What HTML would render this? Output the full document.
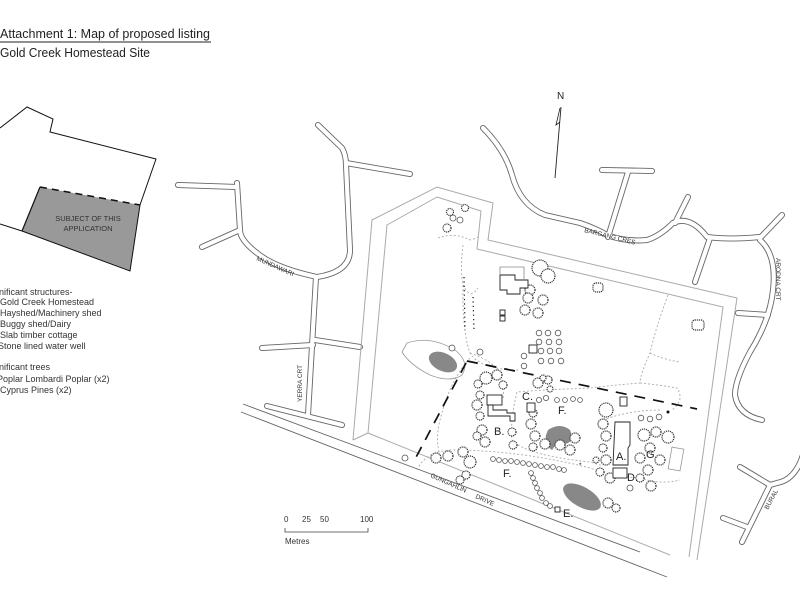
<!DOCTYPE html>
<html><head><meta charset="utf-8"><style>
html,body{margin:0;padding:0;background:#fff;width:800px;height:600px;overflow:hidden}
svg{display:block;font-family:"Liberation Sans",sans-serif}
.rd1{fill:none;stroke:#666;stroke-width:6;stroke-linecap:round;stroke-linejoin:round}
.rd2{fill:none;stroke:#fff;stroke-width:4.2;stroke-linecap:round;stroke-linejoin:round}
.site{fill:none;stroke:#aaa;stroke-width:1}
.path{fill:none;stroke:#aaa;stroke-width:0.9;stroke-dasharray:2 2}
.tr{fill:#fff;stroke:#555;stroke-width:0.8}
.big{fill:#fff;stroke:#333;stroke-width:1.2;stroke-dasharray:1.2 0.8}
.bld{fill:#fff;stroke:#222;stroke-width:0.9}
.lbl{font-size:11px;fill:#222}
.rl{font-size:6.5px;fill:#333}
.lg{font-size:9px;fill:#333}
</style></head><body>
<svg width="800" height="600" viewBox="0 0 800 600">
<text x="0" y="38" font-size="12.5" fill="#222" textLength="210" lengthAdjust="spacingAndGlyphs">Attachment 1:  Map of proposed listing</text>
<line x1="0" y1="42" x2="211" y2="42" stroke="#222" stroke-width="0.9"/>
<text x="0" y="57" font-size="12.5" fill="#222" textLength="150" lengthAdjust="spacingAndGlyphs">Gold Creek Homestead Site</text>

<polygon points="40,187 140,205 130,271 22,231" fill="#999"/>
<polyline points="0,128 27,107 53,119 50,132 156,159 140,205 130,271 22,231 0,224" fill="none" stroke="#111" stroke-width="1"/>
<line x1="22" y1="231" x2="40" y2="187" stroke="#111" stroke-width="1.2"/>
<line x1="40" y1="187" x2="140" y2="205" stroke="#111" stroke-width="1.5" stroke-dasharray="7 5"/>
<text x="88" y="221" font-size="7.5" fill="#333" text-anchor="middle">SUBJECT OF THIS</text>
<text x="88" y="231" font-size="7.5" fill="#333" text-anchor="middle">APPLICATION</text>

<text class="lg" x="-1" y="295">nificant structures-</text>
<text class="lg" x="0" y="305">Gold Creek Homestead</text>
<text class="lg" x="0" y="316">Hayshed/Machinery shed</text>
<text class="lg" x="0" y="327">Buggy shed/Dairy</text>
<text class="lg" x="0" y="338">Slab timber cottage</text>
<text class="lg" x="-2" y="349">Stone lined water well</text>
<text class="lg" x="-1" y="370">nificant trees</text>
<text class="lg" x="-3" y="382">Poplar Lombardi Poplar (x2)</text>
<text class="lg" x="0" y="393">Cyprus Pines (x2)</text>

<g>
<g class="rd1">
<path d="M318,125 L342,148 Q346,155 346,165 L350,250 Q350,272 317,277 Q275,268 257,253 Q240,240 240,230 L237,183"/>
<path d="M346,163 L410,174"/><path d="M237,187 L178,185"/><path d="M240,230 L202,247"/>
<path d="M316,277 L308,415"/><path d="M262,348 L313,345"/><path d="M315,340 L360,347"/><path d="M267,406 L342,425"/>
<path d="M483,128 Q505,150 512,175 Q520,205 545,215 L580,223 Q595,228 607,235 Q625,242 647,240 Q660,236 673,223 Q690,215 707,237 Q730,240 760,237"/>
<path d="M608,237 L628,172"/><path d="M602,170 L652,171"/><path d="M675,223 L688,197"/><path d="M710,238 L695,282"/>
<path d="M760,238 L782,215"/>
<path d="M760,240 Q777,255 773,290 Q770,320 750,352 Q735,380 735,395 Q738,415 762,420"/>
<path d="M738,313 L768,315"/>
<path d="M803,455 Q795,480 777,483 L770,485 L742,542"/><path d="M740,467 L770,485"/><path d="M723,518 L747,527"/>
</g>
<g class="rd2">
<path d="M318,125 L342,148 Q346,155 346,165 L350,250 Q350,272 317,277 Q275,268 257,253 Q240,240 240,230 L237,183"/>
<path d="M346,163 L410,174"/><path d="M237,187 L178,185"/><path d="M240,230 L202,247"/>
<path d="M316,277 L308,415"/><path d="M262,348 L313,345"/><path d="M315,340 L360,347"/><path d="M267,406 L342,425"/>
<path d="M483,128 Q505,150 512,175 Q520,205 545,215 L580,223 Q595,228 607,235 Q625,242 647,240 Q660,236 673,223 Q690,215 707,237 Q730,240 760,237"/>
<path d="M608,237 L628,172"/><path d="M602,170 L652,171"/><path d="M675,223 L688,197"/><path d="M710,238 L695,282"/>
<path d="M760,238 L782,215"/>
<path d="M760,240 Q777,255 773,290 Q770,320 750,352 Q735,380 735,395 Q738,415 762,420"/>
<path d="M738,313 L768,315"/>
<path d="M803,455 Q795,480 777,483 L770,485 L742,542"/><path d="M740,467 L770,485"/><path d="M723,518 L747,527"/>
</g>
</g>
<line x1="243" y1="404" x2="640" y2="552" stroke="#666" stroke-width="0.9"/>
<line x1="241" y1="412" x2="667" y2="577" stroke="#666" stroke-width="0.9"/>

<text class="rl" transform="translate(584,232) rotate(14)">BARGANG CRES</text>
<text class="rl" transform="translate(776,258) rotate(90)">ARODNA CRT</text>
<text class="rl" transform="translate(768,510) rotate(-62)">BURAL</text>
<text class="rl" transform="translate(256,260) rotate(24)">MUNDAWARI</text>
<text class="rl" transform="translate(302,402) rotate(-90)">YERRA CRT</text>
<text class="rl" transform="translate(430,477) rotate(24)">GUNGAHLIN</text>
<text class="rl" transform="translate(475,498) rotate(24)">DRIVE</text>

<line x1="561" y1="107" x2="555" y2="178" stroke="#222" stroke-width="0.9"/>
<polyline points="560,108 556,125 560,122" fill="none" stroke="#222" stroke-width="0.8"/>
<text x="557" y="99" font-size="10" fill="#222">N</text>

<polyline class="site" points="353,440 372,220 437,187 493,203 488,240 737,298 697,560"/>
<polyline class="site" points="368,433 387,225 437,197 481,211 477,249 723,307 689,557"/>
<line class="site" x1="353" y1="440" x2="368" y2="433"/>
<line class="site" x1="368" y1="433" x2="670" y2="555"/>

<path class="path" d="M438,238 Q455,232 470,240 Q478,238 477,237 M463,245 Q460,270 463,285 Q470,300 478,288 M463,285 Q462,330 470,353 Q480,370 520,370"/>
<path class="path" d="M668,295 Q655,330 650,353 Q640,375 640,383 Q615,385 590,388 Q540,390 517,392 Q510,420 512,440 Q525,455 590,462 L603,466"/>
<path class="path" d="M650,353 Q665,360 680,362 M640,383 Q660,385 677,388 Q685,400 672,410"/>
<path class="path" d="M417,470 Q425,452 450,450 Q520,450 590,468 Q610,476 640,478"/>
<path class="path" d="M470,353 Q490,360 498,370 Q505,385 503,400 M470,358 Q450,380 440,420 Q435,440 440,455"/>
<path class="path" d="M640,478 Q660,485 680,480 M603,420 Q630,410 660,410"/>

<g stroke="#111" stroke-width="1.2" stroke-dasharray="1.2 3.2">
<line x1="464" y1="277" x2="465" y2="330"/><line x1="473" y1="297" x2="474" y2="330"/>
</g>

<path d="M407,343 Q430,335 455,350 Q470,362 462,375 Q450,383 430,375 Q410,365 402,352 Z" fill="none" stroke="#999" stroke-width="0.8"/>
<ellipse cx="443" cy="362" rx="15" ry="9" transform="rotate(25 443 362)" fill="#888"/>
<path d="M548,430 Q560,422 570,430 Q575,442 565,444 Q558,440 552,450 Q544,445 546,435 Z" fill="#888"/>
<ellipse cx="582" cy="497" rx="21" ry="10" transform="rotate(30 582 497)" fill="#888"/>

<line x1="467" y1="361" x2="697" y2="409" stroke="#111" stroke-width="1.7" stroke-dasharray="11 8"/>
<line x1="466" y1="363" x2="413" y2="463" stroke="#111" stroke-width="1.7" stroke-dasharray="11 8"/>

<g class="big">
<rect x="593" y="283" width="10" height="9" rx="3"/><rect x="692" y="320" width="12" height="10" rx="3"/>
<circle cx="540" cy="268" r="8"/><circle cx="548" cy="276" r="7"/><circle cx="530" cy="290" r="5"/>
<circle cx="528" cy="298" r="5"/><circle cx="525" cy="310" r="5"/><circle cx="538" cy="313" r="5"/><circle cx="543" cy="300" r="5"/>
<circle cx="450" cy="212" r="3.5"/><circle cx="465" cy="208" r="3.5"/><circle cx="447" cy="228" r="4"/>
<circle cx="486" cy="378" r="6"/><circle cx="497" cy="375" r="5"/><circle cx="478" cy="384" r="4"/><circle cx="503" cy="385" r="4"/>
<circle cx="480" cy="395" r="4"/><circle cx="477" cy="405" r="5"/><circle cx="480" cy="416" r="4"/><circle cx="482" cy="430" r="5"/>
<circle cx="485" cy="442" r="5"/><circle cx="477" cy="436" r="4"/><circle cx="512" cy="432" r="4"/><circle cx="513" cy="445" r="4"/>
<circle cx="538" cy="383" r="5"/><circle cx="548" cy="380" r="4"/>
<circle cx="533" cy="413" r="4"/><circle cx="531" cy="424" r="5"/><circle cx="535" cy="436" r="5"/><circle cx="533" cy="447" r="4"/>
<circle cx="545" cy="444" r="5"/><circle cx="560" cy="445" r="5"/><circle cx="570" cy="450" r="5"/><circle cx="575" cy="438" r="5"/>
<circle cx="606" cy="410" r="7"/><circle cx="603" cy="424" r="5"/><circle cx="606" cy="436" r="5"/><circle cx="603" cy="448" r="4"/>
<circle cx="606" cy="460" r="5"/><circle cx="600" cy="472" r="4"/><circle cx="610" cy="478" r="5"/><circle cx="596" cy="460" r="3"/>
<circle cx="644" cy="435" r="6"/><circle cx="656" cy="432" r="5"/><circle cx="668" cy="437" r="6"/><circle cx="650" cy="448" r="5"/>
<circle cx="640" cy="458" r="5"/><circle cx="660" cy="460" r="5"/><circle cx="648" cy="470" r="5"/><circle cx="640" cy="478" r="4"/><circle cx="651" cy="486" r="5"/>
<circle cx="436" cy="458" r="5"/><circle cx="448" cy="456" r="5"/><circle cx="463" cy="452" r="5"/><circle cx="470" cy="462" r="6"/>
<circle cx="466" cy="475" r="4"/><circle cx="460" cy="480" r="4"/>
<circle cx="608" cy="503" r="5"/><circle cx="616" cy="508" r="4"/>
<circle cx="543" cy="378" r="3"/><circle cx="550" cy="389" r="3"/>
</g>
<g class="tr">
<circle cx="453" cy="218" r="3"/><circle cx="460" cy="220" r="3"/>
<circle cx="452" cy="348" r="3"/><circle cx="480" cy="352" r="3"/><circle cx="405" cy="458" r="3"/>
<circle cx="539" cy="333" r="2.8"/><circle cx="548" cy="333" r="2.8"/><circle cx="558" cy="333" r="2.8"/>
<circle cx="539" cy="342" r="2.8"/><circle cx="549" cy="342" r="2.8"/><circle cx="559" cy="342" r="2.8"/>
<circle cx="541" cy="351" r="2.8"/><circle cx="550" cy="351" r="2.8"/><circle cx="559" cy="351" r="2.8"/>
<circle cx="541" cy="361" r="2.8"/><circle cx="551" cy="361" r="2.8"/><circle cx="561" cy="361" r="2.8"/>
<circle cx="524" cy="356" r="2.8"/><circle cx="524" cy="366" r="2.8"/>
<circle cx="539" cy="400" r="2.6"/><circle cx="546" cy="398" r="2.6"/>
<circle cx="557" cy="400" r="2.4"/><circle cx="565" cy="400" r="2.4"/><circle cx="573" cy="399" r="2.4"/><circle cx="580" cy="400" r="2.4"/>
<circle cx="641" cy="418" r="2.8"/><circle cx="650" cy="419" r="2.8"/><circle cx="659" cy="417" r="2.8"/>
<circle cx="630" cy="488" r="3"/>
</g>
<g class="tr">
<circle cx="493" cy="459" r="2.4"/><circle cx="499" cy="460" r="2.4"/><circle cx="505" cy="461" r="2.4"/><circle cx="511" cy="461" r="2.4"/>
<circle cx="517" cy="462" r="2.4"/><circle cx="523" cy="463" r="2.4"/><circle cx="529" cy="464" r="2.4"/><circle cx="535" cy="465" r="2.4"/>
<circle cx="541" cy="466" r="2.4"/><circle cx="547" cy="467" r="2.4"/><circle cx="553" cy="467" r="2.4"/><circle cx="559" cy="469" r="2.4"/><circle cx="564" cy="470" r="2.4"/>
<circle cx="531" cy="473" r="2.4"/><circle cx="533" cy="478" r="2.4"/><circle cx="535" cy="483" r="2.4"/><circle cx="537" cy="488" r="2.4"/>
<circle cx="540" cy="493" r="2.4"/><circle cx="542" cy="498" r="2.4"/><circle cx="546" cy="503" r="2.4"/><circle cx="550" cy="506" r="2.4"/>
</g>

<g class="bld">
<polygon points="500,275 515,275 515,280 528,280 528,288 520,288 520,294 507,294 507,290 500,290"/>
<polyline points="500,275 500,267 524,267 524,280" fill="none" stroke="#888" stroke-width="0.8"/>
<rect x="500" y="310" width="5" height="5"/><rect x="500" y="316" width="5" height="5"/>
<rect x="529" y="345" width="8" height="8"/>
<rect x="487" y="395" width="15" height="10"/>
<polygon points="488,405 488,416 510,416 510,421 515,421 515,413 507,413 507,410 493,410 493,405"/>
<rect x="527" y="403" width="8" height="9"/>
<rect x="620" y="397" width="7" height="9"/>
<polygon points="615,422 630,422 630,445 628,448 628,465 613,465"/>
<rect x="613" y="468" width="14" height="10"/>
<rect x="555" y="507" width="5" height="5"/>
</g>
<rect x="670" y="448" width="12" height="22" transform="rotate(10 676 459)" fill="none" stroke="#999" stroke-width="0.8"/>
<circle cx="668" cy="412" r="1.5" fill="#111"/>
<text x="578" y="466" font-size="7" fill="#333">&#8902;</text>

<text class="lbl" x="616" y="460">A.</text>
<text class="lbl" x="627" y="481">D.</text>
<text class="lbl" x="494" y="435">B.</text>
<text class="lbl" x="522" y="400">C.</text>
<text class="lbl" x="558" y="414">F.</text>
<text class="lbl" x="503" y="477">F.</text>
<text class="lbl" x="646" y="458">G.</text>
<text class="lbl" x="563" y="517">E.</text>

<g font-size="8" fill="#333">
<text x="284" y="522">0</text><text x="302" y="522">25</text><text x="320" y="522">50</text><text x="360" y="522">100</text>
<text x="285" y="544">Metres</text>
</g>
<polyline points="285,528 285,532 368,532 368,528" fill="none" stroke="#444" stroke-width="0.8"/>
</svg>
</body></html>
